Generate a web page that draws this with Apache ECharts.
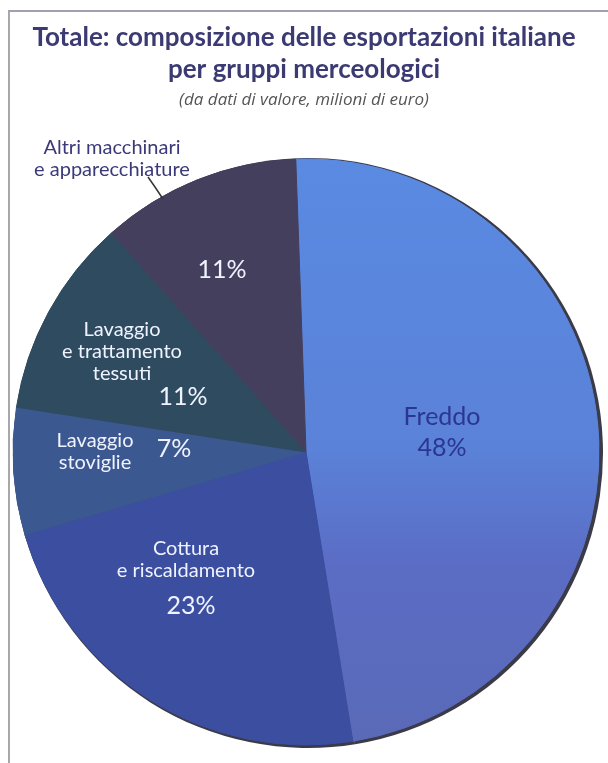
<!DOCTYPE html>
<html>
<head>
<meta charset="utf-8">
<script src="https://cdn.jsdelivr.net/npm/echarts@6/dist/echarts.min.js"></script>
<style>
  html, body { margin: 0; padding: 0; background: #fff; }
  #frame { position: absolute; left: 8px; top: 10px; width: 600px; height: 753px;
           border-left: 2px solid #a8a8a8; border-top: 2px solid #a0a0b0; box-sizing: border-box; }
  #chart { position: absolute; left: 0; top: 0; width: 608px; height: 763px; }
</style>
</head>
<body>
<div id="frame"></div>
<div id="chart"></div>
<script>
// dati (percentuali)
const categories = ['Freddo', 'Cottura\ne riscaldamento', 'Lavaggio\nstoviglie', 'Lavaggio\ne trattamento\ntessuti', 'Altri macchinari\ne apparecchiature'];
const values = [48, 23, 7, 11, 11];

const colors = [
    new echarts.graphic.LinearGradient(0, 0, 0, 1, [
        { offset: 0, color: '#5a8ae2' },
        { offset: 0.5, color: '#5a82d8' },
        { offset: 0.7, color: '#5b6cc4' },
        { offset: 1, color: '#5a6ab8' }
    ]),
    '#3b4e9f',
    '#3c5890',
    '#2f4b60',
    '#453f5e'
];

// posizioni delle etichette (stile)
const pctPos = [null, [191, 606], [174, 449], [183, 397], [222, 270]];
const namePos = [[442, 432], [186, 560], [95, 452], [122, 352], [112, 159]];
const nameColor = ['#2c3590', '#eef3ff', '#eef3ff', '#eef3ff', '#3b3a78'];

const chart = echarts.init(document.getElementById('chart'));

const pieBase = {
    type: 'pie',
    center: [306, 452],
    radius: 293,
    startAngle: 92,
    clockwise: true,
    avoidLabelOverlap: false,
    silent: true,
    emphasis: { disabled: true }
};

const option = {
    animation: false,
    title: {
        left: 'center',
        top: 17,
        text: 'Totale: composizione delle esportazioni italiane\nper gruppi merceologici',
        subtext: '(da dati di valore, milioni di euro)',
        itemGap: 6,
        textStyle: { fontFamily: 'Lato', fontSize: 26, fontWeight: 'bold', color: '#3b3a72', lineHeight: 32 },
        subtextStyle: { fontFamily: 'Open Sans', fontSize: 17, fontStyle: 'italic', color: '#555' }
    },
    series: [
        // bordo scuro / ombra
        Object.assign({}, pieBase, {
            name: 'ombra',
            z: 1,
            center: [308, 453],
            radius: 295,
            data: values.map((v, i) => ({ value: v, name: categories[i] })),
            itemStyle: { color: '#3a3a48', borderWidth: 0 },
            label: { show: false },
            labelLine: { show: false }
        }),
        Object.assign({}, pieBase, {
            name: 'valori',
            z: 2,
            data: values.map((v, i) => ({
                value: v, name: categories[i],
                itemStyle: { color: colors[i], borderColor: colors[i], borderWidth: 1 },
                label: { show: i > 0 }
            })),
            label: {
                position: 'inside',
                formatter: '{c}%',
                fontFamily: 'Lato', fontSize: 25, color: '#eef3ff'
            },
            labelLine: { show: false },
            labelLayout: function (p) {
                const pos = pctPos[p.dataIndex];
                if (!pos) return {};
                return { x: pos[0], y: pos[1], align: 'center', verticalAlign: 'middle' };
            }
        }),
        Object.assign({}, pieBase, {
            name: 'nomi',
            z: 3,
            data: values.map((v, i) => ({
                value: v, name: categories[i],
                label: {
                    color: nameColor[i],
                    fontSize: i === 0 ? 25 : 20,
                    lineHeight: i === 0 ? 31 : 22,
                    formatter: i === 0 ? '{b}\n{c}%' : '{b}',
                    position: i === 4 ? 'outside' : 'inside'
                },
                labelLine: { show: i === 4 }
            })),
            itemStyle: { color: 'rgba(0,0,0,0)' },
            label: { fontFamily: 'Lato', align: 'center' },
            labelLine: { lineStyle: { color: '#333', width: 1.5 }, length: 10, length2: 0 },
            labelLayout: function (p) {
                const pos = namePos[p.dataIndex];
                const out = { x: pos[0], y: pos[1], align: 'center', verticalAlign: 'middle' };
                if (p.dataIndex === 4) out.labelLinePoints = [[163, 199], [155, 187], [148, 177]];
                return out;
            }
        })
    ]
};

chart.setOption(option);
</script>
</body>
</html>
